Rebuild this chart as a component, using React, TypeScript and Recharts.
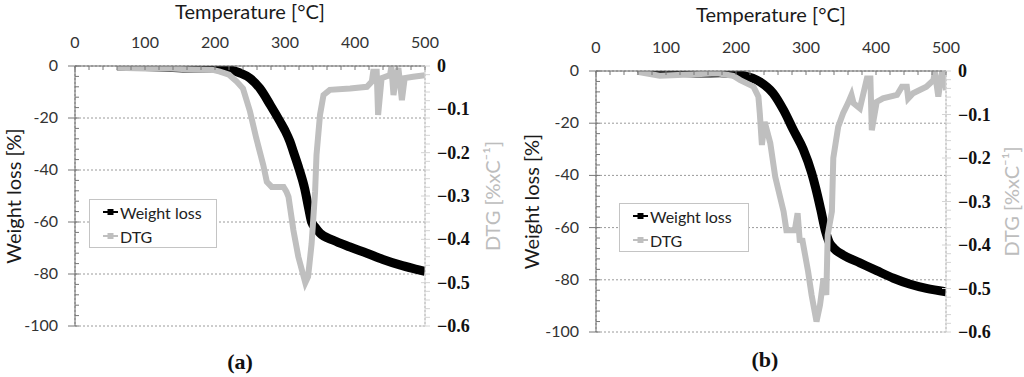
import { CartesianGrid, ComposedChart, Legend, Line, XAxis, YAxis } from 'recharts'

const tempTicks = [0, 100, 200, 300, 400, 500]
const weightTicks = [0, -20, -40, -60, -80, -100]
const dtgTicks = [0, -0.1, -0.2, -0.3, -0.4, -0.5, -0.6]
const legendOrder = ['Weight loss', 'DTG']

// (a)
const weightTempA = [60, 100, 140, 170, 200, 220, 235, 250, 264, 279, 293, 300, 307, 312, 320, 328, 334, 338, 343, 350, 369, 393, 417, 440, 464, 488, 500]
const weightA = [0, -0.2, -0.6, -0.8, -0.8, -1.4, -2.6, -4.7, -8.6, -15, -21.4, -24.8, -29, -33, -39.5, -47, -55, -60, -62, -64.3, -67, -69.6, -72, -74.4, -76.5, -78.2, -79]
const dtgTempA = [60, 100, 136, 170, 197, 207, 220, 231, 240, 250, 259, 269, 274, 281, 298, 302, 305, 312, 319, 329, 333, 338, 343, 345, 350, 355, 364, 393, 417, 424, 426, 431, 433, 438, 450, 452, 455, 459, 462, 467, 471, 483, 500]
const dtgA = [-0.004, -0.006, -0.006, -0.008, -0.009, -0.013, -0.02, -0.036, -0.052, -0.105, -0.167, -0.229, -0.267, -0.279, -0.279, -0.29, -0.302, -0.379, -0.44, -0.5, -0.486, -0.41, -0.29, -0.205, -0.113, -0.067, -0.055, -0.052, -0.048, -0.036, -0.013, -0.013, -0.113, -0.028, -0.021, -0.002, -0.067, -0.02, -0.005, -0.079, -0.028, -0.025, -0.021]

// (b)
const weightTempB = [59, 100, 150, 177, 206, 234, 253, 268, 282, 296, 308, 314, 321, 328, 333, 340, 353, 377, 401, 425, 449, 472, 500]
const weightB = [0.5, -0.2, -0.8, -0.7, -1.5, -4.1, -8.5, -15, -22.6, -30, -39, -45, -53, -61.5, -65.5, -68, -70.5, -73.5, -76.5, -79.4, -81.7, -83.3, -84.6]
const dtgTempB = [59, 91, 134, 173, 196, 206, 225, 232, 234, 237, 241, 249, 256, 263, 268, 272, 284, 288, 291, 295, 303, 308, 315, 320, 325, 329, 331, 337, 339, 346, 353, 360, 365, 368, 377, 387, 392, 394, 401, 410, 430, 437, 444, 446, 453, 472, 482, 484, 489, 494, 497, 500]
const dtgB = [-0.002, -0.011, -0.008, -0.005, -0.011, -0.021, -0.036, -0.059, -0.097, -0.17, -0.117, -0.166, -0.243, -0.29, -0.323, -0.366, -0.366, -0.327, -0.389, -0.39, -0.461, -0.515, -0.576, -0.538, -0.477, -0.515, -0.377, -0.323, -0.2, -0.128, -0.097, -0.074, -0.055, -0.074, -0.086, -0.017, -0.017, -0.136, -0.071, -0.063, -0.055, -0.036, -0.036, -0.063, -0.051, -0.036, -0.021, -0.002, -0.059, -0.005, 0.002, -0.044]

const SANS = 'Lato, "Open Sans", sans-serif'
const SERIF = '"Liberation Serif", "Times New Roman", serif'

const steps = (from: number, to: number, step: number) => {
  const out: number[] = []
  for (let i = 0; from + i * step <= to + 1e-9; i++) out.push(Math.round((from + i * step) * 1000) / 1000)
  return out
}
const tempAxisTicks = steps(0, 500, 20)
const weightAxisTicks = steps(-100, 0, 4)
const dtgAxisTicks = steps(-0.6, 0, 0.02)
const isMajor = (list: number[], v: number) => list.some((t) => Math.abs(t - v) < 1e-6)

const rows = (ts: number[], vs: number[], key: string) => ts.map((t, i) => ({ t, [key]: vs[i] }))

function TopTick({ x, y, payload }: any) {
  const major = isMajor(tempTicks, payload.value)
  return (
    <g>
      <line x1={x} x2={x} y1={y} y2={y + 4} stroke="#777" />
      {major && (
        <text x={x} y={y - 18} textAnchor="middle" fontSize={16} fill="#333" fontFamily={SANS}>
          {payload.value}
        </text>
      )}
    </g>
  )
}

function LeftTick({ x, y, payload }: any) {
  const major = isMajor(weightTicks, payload.value)
  return (
    <g>
      <line x1={major ? x - 7 : x} x2={x + 4} y1={y} y2={y} stroke="#777" />
      {major && (
        <text x={x - 17} y={y + 5} textAnchor="end" fontSize={16} fill="#333" fontFamily={SANS}>
          {payload.value}
        </text>
      )}
    </g>
  )
}

function RightTick({ x, y, payload }: any) {
  const v = payload.value
  const major = isMajor(dtgTicks, v)
  const text = Math.abs(v) < 1e-9 ? '0' : '\u2212' + Math.abs(v).toFixed(1)
  return (
    <g>
      <line x1={major ? x - 4 : x} x2={x + 5} y1={y} y2={y} stroke="#d4d4d4" />
      {major && (
        <text x={x + 12} y={y + 6} fontSize={18} fontWeight="bold" fill="#111" fontFamily={SERIF}>
          {text}
        </text>
      )}
    </g>
  )
}

function LegendBox({ payload }: any) {
  const items = [...(payload || [])].sort((a: any, b: any) => legendOrder.indexOf(a.value) - legendOrder.indexOf(b.value))
  return (
    <div style={{ border: '1px solid #c4c4c4', background: '#fff', height: 47, padding: '0 0 0 13px', fontFamily: SANS, fontSize: 16, color: '#222' }}>
      {items.map((p: any) => (
        <div key={p.value} style={{ display: 'flex', alignItems: 'center', height: 24 }}>
          <svg width={15} height={10} style={{ marginRight: 2 }}>
            <line x1={0} x2={15} y1={5} y2={5} stroke={p.color} strokeWidth={2} />
            <rect x={4.5} y={2} width={6} height={6} fill={p.color} />
          </svg>
          <span>{p.value}</span>
        </div>
      ))}
    </div>
  )
}

type PanelProps = {
  x: number
  top: number
  bottom: number
  leftW: number
  rightW: number
  titleOffset: number
  leftLabel: number
  rightLabel: number
  legend: { left: number; top: number; width: number }
  weight: any[]
  dtg: any[]
  caption: string
  captionX: number
  captionY: number
}

function Panel(p: PanelProps) {
  return (
    <div style={{ position: 'absolute', left: p.x, top: 0, width: 512, height: 377 }}>
      <ComposedChart width={512} height={377} margin={{ top: p.top, right: 0, bottom: p.bottom, left: 0 }}>
        <XAxis xAxisId="grid" type="number" domain={[0, 500]} ticks={[100, 200, 300, 400]} height={0} hide allowDataOverflow />
        <YAxis yAxisId="grid" type="number" domain={[-100, 0]} ticks={[-20, -40, -60, -80]} width={0} hide allowDataOverflow />
        <CartesianGrid xAxisId="grid" yAxisId="grid" stroke="#9a9a9a" strokeDasharray="2 2" />
        <XAxis
          xAxisId="t"
          orientation="top"
          type="number"
          dataKey="t"
          domain={[0, 500]}
          ticks={tempAxisTicks}
          interval={0}
          height={40}
          tickSize={0}
          tickMargin={0}
          tickLine={false}
          stroke="#666"
          tick={<TopTick />}
          allowDataOverflow
          label={{ value: 'Temperature [°C]', position: 'top', offset: p.titleOffset, fill: '#1a1a1a', fontSize: 20, fontFamily: SANS }}
        />
        <XAxis xAxisId="base" orientation="bottom" type="number" domain={[0, 500]} height={0} tick={false} tickLine={false} stroke="#d0d0d0" allowDataOverflow />
        <YAxis
          yAxisId="w"
          type="number"
          domain={[-100, 0]}
          ticks={weightAxisTicks}
          interval={0}
          width={p.leftW}
          tickSize={0}
          tickMargin={0}
          tickLine={false}
          stroke="#666"
          tick={<LeftTick />}
          allowDataOverflow
          label={{ value: 'Weight loss [%]', angle: -90, position: 'insideLeft', offset: p.leftLabel, fill: '#1a1a1a', fontSize: 20, fontFamily: SANS, style: { textAnchor: 'middle' } }}
        />
        <YAxis
          yAxisId="d"
          orientation="right"
          type="number"
          domain={[-0.6, 0]}
          ticks={dtgAxisTicks}
          interval={0}
          width={p.rightW}
          tickSize={0}
          tickMargin={0}
          tickLine={false}
          stroke="#d4d4d4"
          tick={<RightTick />}
          allowDataOverflow
          label={{ value: 'DTG [%xC⁻¹]', angle: -90, position: 'insideRight', offset: p.rightLabel, fill: '#bdbdbd', fontSize: 20, fontFamily: SANS, style: { textAnchor: 'middle' } }}
        />
        <Line xAxisId="t" yAxisId="w" data={p.weight} dataKey="w" name="Weight loss" type="monotone" stroke="#000" strokeWidth={9} dot={false} isAnimationActive={false} />
        <Line xAxisId="t" yAxisId="d" data={p.dtg} dataKey="d" name="DTG" type="linear" stroke="#bfbfbf" strokeWidth={6} dot={false} isAnimationActive={false} />
        <Legend
          layout="vertical"
          align="center"
          verticalAlign="middle"
          content={<LegendBox />}
          wrapperStyle={{ left: p.legend.left, top: p.legend.top, width: p.legend.width, right: 'auto', bottom: 'auto' }}
        />
      </ComposedChart>
      <div
        style={{ position: 'absolute', left: p.captionX - 30, top: p.captionY - 14, width: 60, textAlign: 'center', fontFamily: SERIF, fontWeight: 'bold', fontSize: 22, lineHeight: '28px', color: '#111' }}
      >
        {p.caption}
      </div>
    </div>
  )
}

export default function App() {
  return (
    <div style={{ position: 'absolute', left: 0, top: 0, width: 1024, height: 377, background: '#fff' }}>
      <Panel
        x={0}
        top={26}
        bottom={51}
        leftW={75}
        rightW={87}
        titleOffset={7}
        leftLabel={14}
        rightLabel={19}
        legend={{ left: 89, top: 199, width: 128 }}
        weight={rows(weightTempA, weightA, 'w')}
        dtg={rows(dtgTempA, dtgA, 'd')}
        caption="(a)"
        captionX={240}
        captionY={362}
      />
      <Panel
        x={512}
        top={31}
        bottom={45}
        leftW={84}
        rightW={78}
        titleOffset={9}
        leftLabel={20}
        rightLabel={12}
        legend={{ left: 107, top: 203, width: 130 }}
        weight={rows(weightTempB, weightB, 'w')}
        dtg={rows(dtgTempB, dtgB, 'd')}
        caption="(b)"
        captionX={253}
        captionY={360}
      />
    </div>
  )
}
